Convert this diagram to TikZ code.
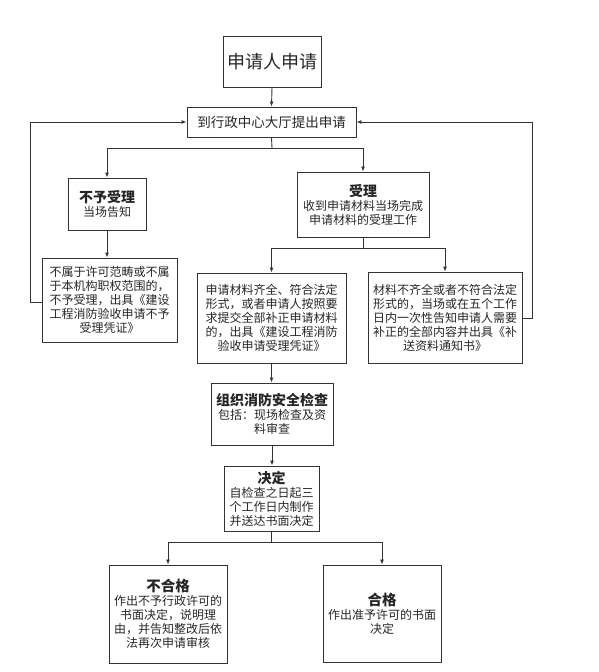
\documentclass[tikz,border=0pt]{standalone}
\usepackage{fontspec}
\setmainfont{Noto Sans CJK SC}
\usetikzlibrary{arrows.meta}
\begin{document}
\begin{tikzpicture}[x=1pt,y=-1pt,
  box/.style={draw=black!80,line width=0.9pt,inner sep=1pt,align=center,text=black!85},
  body/.style={font=\fontsize{12}{14}\selectfont},
  arr/.style={draw=black!80,line width=0.9pt,-{Latex[length=5pt,width=4pt]}},
  ln/.style={draw=black!80,line width=0.9pt}]
\useasboundingbox (0,0) rectangle (598,672);
\node[box,minimum width=98pt,minimum height=51pt,font=\fontsize{18}{20}\selectfont] (n1) at (272,61.5) {申请人申请};
\node[box,minimum width=169pt,minimum height=30pt,font=\fontsize{13.5}{15}\selectfont] (n2) at (271.5,122) {到行政中心大厅提出申请};
\node[box,body,minimum width=78pt,minimum height=52pt] (rej) at (107,204) {{\bfseries\fontsize{14}{17}\selectfont 不予受理}\\当场告知};
\node[box,body,minimum width=135pt,minimum height=84pt] (rejd) at (109.5,300) {不属于许可范畴或不属\\于本机构职权范围的，\\不予受理，出具《建设\\工程消防验收申请不予\\受理凭证》};
\node[box,body,minimum width=132pt,minimum height=65pt] (acc) at (363,204.5) {{\bfseries\fontsize{14}{17}\selectfont 受理}\\收到申请材料当场完成\\申请材料的受理工作};
\node[box,body,minimum width=149pt,minimum height=90pt] (ok) at (271.5,318) {申请材料齐全、符合法定\\形式，或者申请人按照要\\求提交全部补正申请材料\\的，出具《建设工程消防\\验收申请受理凭证》};
\node[box,body,minimum width=154pt,minimum height=91pt] (bad) at (445,317.5) {材料不齐全或者不符合法定\\形式的，当场或在五个工作\\日内一次性告知申请人需要\\补正的全部内容并出具《补\\送资料通知书》};
\node[box,body,minimum width=122pt,minimum height=62pt] (chk) at (272,414) {{\bfseries\fontsize{14}{17}\selectfont 组织消防安全检查}\\包括：现场检查及资\\料审查};
\node[box,body,minimum width=95pt,minimum height=65pt] (dec) at (271.5,498.5) {{\bfseries\fontsize{14}{17}\selectfont 决定}\\自检查之日起三\\个工作日内制作\\并送达书面决定};
\node[box,body,minimum width=118pt,minimum height=98pt] (fail) at (168,614) {{\bfseries\fontsize{14.5}{17}\selectfont 不合格}\\作出不予行政许可的\\书面决定，说明理\\由，并告知整改后依\\法再次申请审核};
\node[box,body,minimum width=118pt,minimum height=97pt] (pass) at (382,613.5) {{\bfseries\fontsize{14.5}{17}\selectfont 合格}\\作出准予许可的书面\\决定};
\coordinate (s1) at (272,148);
\coordinate (s2) at (363,248);
\coordinate (s3) at (272,542);
\draw[arr] (n1.south) -- (n2.north);
\draw[ln] (n2.south) -- (s1);
\draw[arr] (s1) -| (rej.north);
\draw[arr] (s1) -| (acc.north);
\draw[arr] (rej.south) -- (rej.south |- rejd.north);
\draw[ln] (acc.south) -- (s2);
\draw[arr] (s2) -| (ok.north);
\draw[arr] (s2) -| (bad.north);
\draw[arr] (ok.south) -- (ok.south |- chk.north);
\draw[arr] (chk.south) -- (chk.south |- dec.north);
\draw[ln] (dec.south) -- (dec.south |- s3);
\draw[arr] (dec.south |- s3) -| (fail.north);
\draw[arr] (dec.south |- s3) -| (pass.north);
\draw[arr] (rejd.west |- 0,302) -- (30,302) -- (30,122) -- (n2.west);
\draw[arr] (bad.east |- 0,318) -- (532,318) -- (532,122) -- (n2.east);
\end{tikzpicture}
\end{document}
